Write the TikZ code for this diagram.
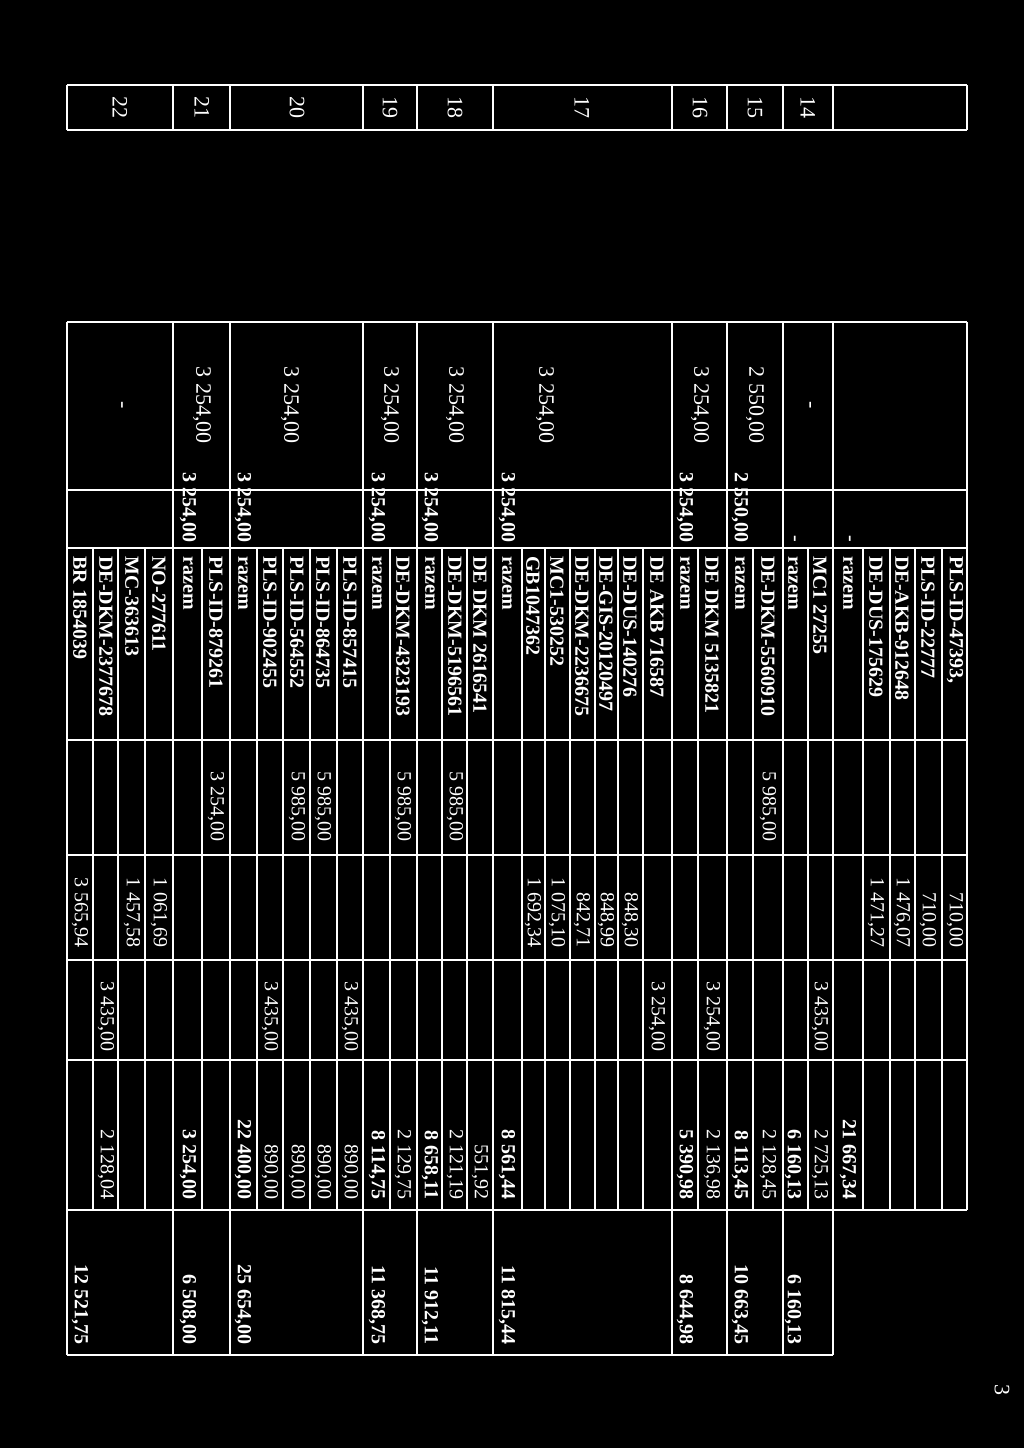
\documentclass[tikz,border=0pt]{standalone}
\usepackage{fontspec}
\setmainfont{Liberation Serif}
\tikzset{
  rule/.style={draw=white, line width=0.8pt},
  cell/.style={rotate=-90, text=white, inner sep=0pt, font=\fontsize{10}{12}\selectfont},
  idtxt/.style={cell, anchor=west, font=\bfseries\fontsize{10}{12}\selectfont},
  numtxt/.style={cell, anchor=east},
  sumtxt/.style={cell, anchor=east, font=\bfseries\fontsize{10}{12}\selectfont},
  lptxt/.style={cell, anchor=center, font=\fontsize{11}{12}\selectfont}
}
\begin{document}
\begin{tikzpicture}[x=0.5pt, y=-0.5pt]
    \fill[black] (0,0) rectangle (1024,1448);

    %Lines
    \foreach \y in {85,130,322,490,548,740,855,960,1060,1210}
        \draw[rule] (67,\y) -- (967,\y);
    \draw[rule] (67,1355) -- (833,1355);
    \foreach \x in {967,833,783,727,672,493,417,363,230,173,67} {
        \draw[rule] (\x,85) -- (\x,130);
        \draw[rule] (\x,322) -- (\x,1210);
    }
    \foreach \x in {833,783,727,672,493,417,363,230,173,67}
        \draw[rule] (\x,1210) -- (\x,1355);
    \foreach \x in {942,915,890,863,808,753,698,643,618,595,570,545,522,467,442,390,337,310,283,257,202,145,118,93}
        \draw[rule] (\x,548) -- (\x,1210);

    %Row numbers
    \foreach \x/\t in {808/14,755/15,700/16,582/17,455/18,390/19,297/20,202/21,120/22}
        \node[lptxt] (lp\t) at (\x,107) {\t};

    %Ids
    \foreach \x/\t [count=\i] in {955/{PLS-ID-47393,},928/PLS-ID-22777,902/DE-AKB-912648,876/DE-DUS-175629,
        848/razem,820/MC1 27255,793/razem,768/DE-DKM-5560910,740/razem,712/DE DKM 5135821,685/razem,
        657/DE AKB 716587,630/DE-DUS-140276,606/DE-GIS-20120497,582/DE-DKM-2236675,557/MC1-530252,
        533/GB1047362,507/razem,480/DE DKM 2616541,455/DE-DKM-5196561,430/razem,403/DE-DKM-4323193,
        377/razem,350/PLS-ID-857415,323/PLS-ID-864735,297/PLS-ID-564552,270/PLS-ID-902455,243/razem,
        216/PLS-ID-879261,188/razem,159/NO-277611,132/MC-363613,106/DE-DKM-2377678,80/BR 1854039}
        \node[idtxt] (id\i) at (\x,556) {\t};

    %Column A
    \foreach \x/\t [count=\i] in {808/-,755/{2 550,00},700/{3 254,00},545/{3 254,00},455/{3 254,00},
        390/{3 254,00},290/{3 254,00},202/{3 254,00},120/-}
        \node[lptxt] (a\i) at (\x,405) {\t};

    %Column B
    \foreach \x/\t [count=\i] in {848/-,793/-,740/{2 550,00},685/{3 254,00},507/{3 254,00},
        430/{3 254,00},377/{3 254,00},243/{3 254,00},188/{3 254,00}}
        \node[sumtxt] (b\i) at (\x,543) {\t};

    %Column C
    \foreach \x/\t [count=\i] in {768/{5 985,00},455/{5 985,00},403/{5 985,00},323/{5 985,00},
        297/{5 985,00},216/{3 254,00}}
        \node[numtxt] (c\i) at (\x,842) {\t};

    %Column D
    \foreach \x/\t [count=\i] in {955/{710,00},928/{710,00},902/{1 476,07},876/{1 471,27},630/{848,30},
        606/{848,99},582/{842,71},557/{1 075,10},533/{1 692,34},159/{1 061,69},132/{1 457,58},80/{3 565,94}}
        \node[numtxt] (d\i) at (\x,948) {\t};

    %Column E
    \foreach \x/\t [count=\i] in {820/{3 435,00},712/{3 254,00},657/{3 254,00},350/{3 435,00},
        270/{3 435,00},106/{3 435,00}}
        \node[numtxt] (e\i) at (\x,1052) {\t};

    %Column F
    \foreach \x/\t [count=\i] in {820/{2 725,13},768/{2 128,45},712/{2 136,98},480/{551,92},455/{2 121,19},
        403/{2 129,75},350/{890,00},323/{890,00},297/{890,00},270/{890,00},106/{2 128,04}}
        \node[numtxt] (f\i) at (\x,1200) {\t};
    \foreach \x/\t [count=\i] in {848/{21 667,34},793/{6 160,13},740/{8 113,45},685/{5 390,98},
        507/{8 561,44},430/{8 658,11},377/{8 114,75},243/{22 400,00},188/{3 254,00}}
        \node[sumtxt] (fs\i) at (\x,1200) {\t};

    %Column G
    \foreach \x/\t [count=\i] in {793/{6 160,13},740/{10 663,45},685/{8 644,98},507/{11 815,44},
        430/{11 912,11},377/{11 368,75},243/{25 654,00},188/{6 508,00},80/{12 521,75}}
        \node[sumtxt] (g\i) at (\x,1345) {\t};

    \node[lptxt] (page) at (1002,1390) {3};
\end{tikzpicture}
\end{document}
